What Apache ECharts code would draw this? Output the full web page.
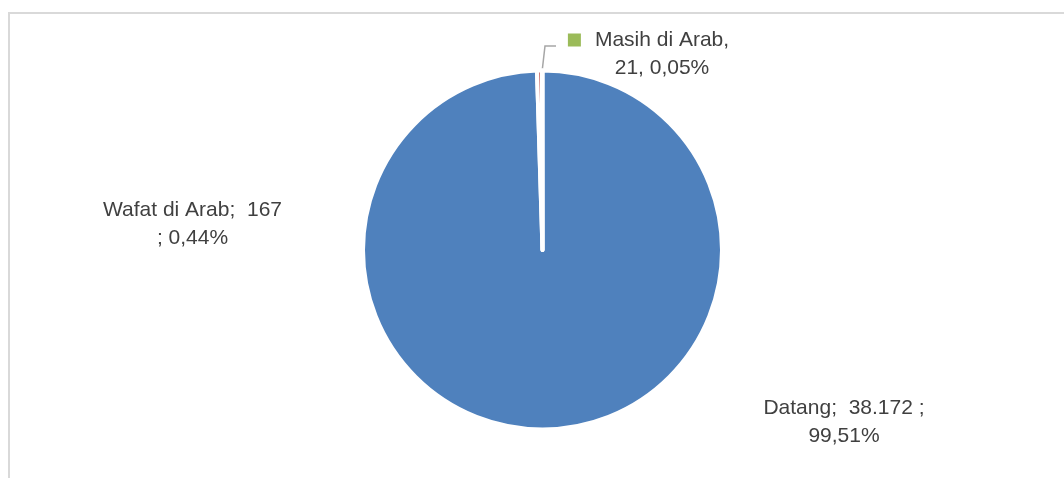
<!DOCTYPE html>
<html>
<head>
<meta charset="utf-8">
<script src="https://cdn.jsdelivr.net/npm/echarts@6/dist/echarts.min.js"></script>
<style>
  html, body { margin: 0; padding: 0; background: #ffffff; }
  #chart { width: 1064px; height: 478px; }
</style>
</head>
<body>
<div id="chart"></div>
<script>
// Jamaah status breakdown
const categories = ['Datang', 'Wafat di Arab', 'Masih di Arab'];
const jumlah = [38172, 167, 21];
const warna = ['#4F81BD', '#C0504D', '#9BBB59'];

// Indonesian number formatting: "." thousands, "," decimals
const fmtInt = v => String(v).replace(/\B(?=(\d{3})+(?!\d))/g, '.');
const fmtPct = p => p.toFixed(2).replace('.', ',') + '%';

const labelText = params => {
  const n = params.name, v = fmtInt(params.value), p = fmtPct(params.percent);
  if (params.dataIndex === 0) return n + ';  ' + v + ' ;\n' + p;
  if (params.dataIndex === 1) return n + ';  ' + v + '\n; ' + p;
  return '{sq|}{gap|}' + n + ',\n{pad|}' + v + ', ' + p;
};

const textColor = '#404040';
const fontFamily = "'Liberation Sans', Arial, sans-serif";

const chart = echarts.init(document.getElementById('chart'), null, { renderer: 'canvas' });

// white slice outlines take ~2px off the outer rim, so the radius allows for it
const cx = 542.5, cy = 250, r = 179.5;

chart.setOption({
  backgroundColor: '#ffffff',
  animation: false,
  graphic: [{
    type: 'rect',
    shape: { x: 9, y: 13, width: 1100, height: 500 },
    style: { fill: 'none', stroke: '#D9D9D9', lineWidth: 2 },
    silent: true
  }],
  series: [{
    type: 'pie',
    center: [cx, cy],
    radius: r,
    startAngle: 90,
    clockwise: true,
    avoidLabelOverlap: false,
    percentPrecision: 2,
    itemStyle: { borderColor: '#ffffff', borderWidth: 4 },
    label: {
      show: true,
      position: 'outside',
      formatter: labelText,
      color: textColor,
      fontFamily: fontFamily,
      fontSize: 21,
      lineHeight: 28,
      align: 'center',
      rich: {
        sq: { width: 13, height: 13, backgroundColor: '#9BBB59' },
        gap: { width: 14 },
        pad: { width: 27 }
      }
    },
    labelLine: { show: false },
    labelLayout: params => {
      const i = params.dataIndex;
      if (i === 0) return { x: 844, y: 422, align: 'center', verticalAlign: 'middle' };
      if (i === 1) return { x: 192.5, y: 224, align: 'center', verticalAlign: 'middle' };
      const start = (params.labelLinePoints && params.labelLinePoints[0]) || [cx, cy - r];
      return {
        x: 648.5, y: 54, align: 'center', verticalAlign: 'middle',
        labelLinePoints: [start, [545, 46], [556, 46]]
      };
    },
    data: categories.map((name, i) => ({
      name: name,
      value: jumlah[i],
      itemStyle: { color: warna[i] },
      labelLine: i === 2
        ? { show: true, length: 10, length2: 10, lineStyle: { color: '#A6A6A6', width: 1.5 } }
        : { show: false }
    }))
  }]
});
</script>
</body>
</html>
